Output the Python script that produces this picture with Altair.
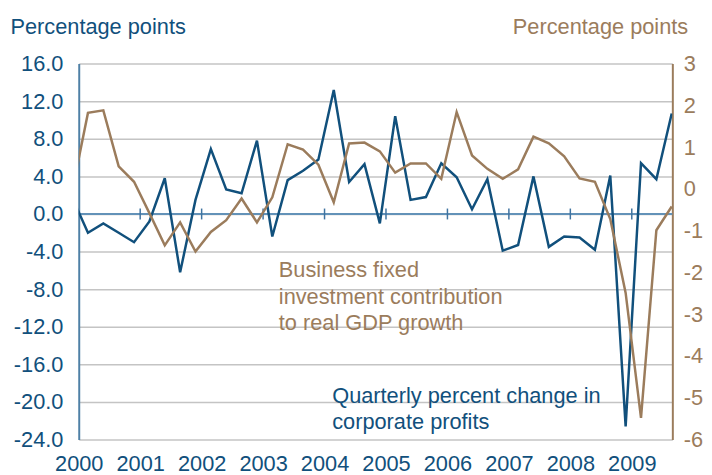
import altair as alt
import pandas as pd

# ---- data ----
quarters = ["1999Q4"] + [f"{y}Q{q}" for y in range(2000, 2010) for q in range(1, 5)][:39]

# Quarterly percent change in corporate profits (left axis)
profits = [1.65, -2.0, -1.0, -2.0, -3.0, -0.8, 3.8, -6.2, 1.5, 6.9,
           2.6, 2.2, 7.8, -2.4, 3.6, 4.6, 5.8, 13.2, 3.4, 5.3,
           -1.0, 10.4, 1.5, 1.8, 5.4, 3.9, 0.5, 3.7, -3.9, -3.3,
           4.0, -3.5, -2.4, -2.5, -3.8, 4.1, -22.6, 5.4, 3.7, 10.7]

# Business fixed investment contribution to real GDP growth (right axis)
bfi = [0.0, 1.82, 1.88, 0.54, 0.17, -0.58, -1.35, -0.80, -1.50, -1.03,
       -0.75, -0.23, -0.80, -0.20, 1.07, 0.94, 0.58, -0.32, 1.09, 1.11,
       0.90, 0.39, 0.61, 0.61, 0.24, 1.84, 0.80, 0.48, 0.24, 0.47,
       1.25, 1.09, 0.78, 0.25, 0.17, -0.72, -2.49, -5.48, -0.99, -0.42]

years = list(range(2000, 2010))
left_ticks = list(range(-24, 17, 4))
right_ticks = list(range(-6, 4))

BLUE = "#11507c"
BROWN = "#9b7c5c"
ZERO = "#6392b8"
GRID = "#c4c4c4"
FONT = "Liberation Sans"
FS = 22

df = pd.DataFrame({"quarter": quarters, "profits": profits, "bfi": bfi})
df["t"] = [int(s[:4]) + (int(s[-1]) - 1) / 4 + 0.15 for s in quarters]

zero_df = pd.DataFrame({"profits": [0]})
tick_df = pd.DataFrame({"t": years[1:], "profits": [0] * (len(years) - 1)})
ann_df = pd.DataFrame({
    "t": [2003.256, 2004.125],
    "profits": [-6.75, -20.14],
    "label": ["Business fixed\ninvestment contribution\nto real GDP growth",
              "Quarterly percent change in\ncorporate profits"],
    "series": ["bfi", "profits"],
})

xscale = alt.Scale(domain=[2000, 2009.66], nice=False, zero=False)
x_axis = alt.Axis(values=years, format="d", ticks=False, domain=False,
                  grid=False, labelFlush=False, labelOverlap=False,
                  labelPadding=14, labelFontSize=FS, labelColor=BLUE,
                  labelFont=FONT, title=None)
x_enc = alt.X("t:Q", scale=xscale, axis=x_axis)

lscale = alt.Scale(domain=[-24, 16], nice=False, zero=False)
rscale = alt.Scale(domain=[-6, 3], nice=False, zero=False)

left_axis = alt.Axis(values=left_ticks,
                     labelExpr="datum.value < 0 ? '-' + format(-datum.value, '.1f') : format(datum.value, '.1f')",
                     title="Percentage points", titleAngle=0,
                     titleX=-69.5, titleY=-30, titleAlign="left",
                     titleBaseline="alphabetic", titleFontSize=FS,
                     titleFontWeight="normal", titleColor=BLUE, titleFont=FONT,
                     labelColor=BLUE, labelFontSize=FS, labelFont=FONT,
                     labelPadding=16, ticks=False,
                     domainColor="#4f80a6", domainWidth=2,
                     grid=True, gridColor=GRID, gridWidth=1.5)
y_left = alt.Y("profits:Q", scale=lscale, axis=left_axis)

blue_line = alt.Chart(df).mark_line(color=BLUE, strokeWidth=2.5, clip=True).encode(
    x=x_enc, y=y_left,
)

zero_rule = alt.Chart(zero_df).mark_rule(color=ZERO, strokeWidth=2).encode(y=y_left)

zero_ticks = alt.Chart(tick_df).mark_tick(orient="vertical", size=11, thickness=1.5,
                                          color="#3f73a0", opacity=1).encode(x=x_enc, y=y_left)

annotations = alt.Chart(ann_df).mark_text(
    align="left", baseline="alphabetic", fontSize=FS, font=FONT,
    lineBreak="\n", lineHeight=26.5,
).encode(
    x=x_enc,
    y=y_left,
    text="label:N",
    color=alt.Color("series:N",
                    scale=alt.Scale(domain=["bfi", "profits"], range=[BROWN, BLUE]),
                    legend=None),
)

left = alt.layer(zero_rule, zero_ticks, blue_line, annotations)

brown_line = alt.Chart(df).mark_line(color=BROWN, strokeWidth=2.5, clip=True).encode(
    x=x_enc,
    y=alt.Y("bfi:Q", scale=rscale,
            axis=alt.Axis(orient="right", values=right_ticks,
                          labelExpr="datum.value < 0 ? '-' + format(-datum.value, 'd') : format(datum.value, 'd')",
                          title="Percentage points", titleAngle=0,
                          titleX=15.5, titleY=-30, titleAlign="right",
                          titleBaseline="alphabetic", titleFontSize=FS,
                          titleFontWeight="normal", titleColor=BROWN, titleFont=FONT,
                          labelColor=BROWN, labelFontSize=FS, labelFont=FONT,
                          labelPadding=11, ticks=False,
                          domainColor=BROWN, domainWidth=2, grid=False)),
)

chart = alt.layer(left, brown_line).resolve_scale(y="independent").properties(
    width=600, height=380,
    autosize=alt.AutoSizeParams(type="none"),
    padding={"left": 71.5, "top": 53.7, "right": 32, "bottom": 33},
).configure(font=FONT).configure_view(strokeWidth=0)

chart.save("out.html", embed_options={"renderer": "svg", "actions": False})
